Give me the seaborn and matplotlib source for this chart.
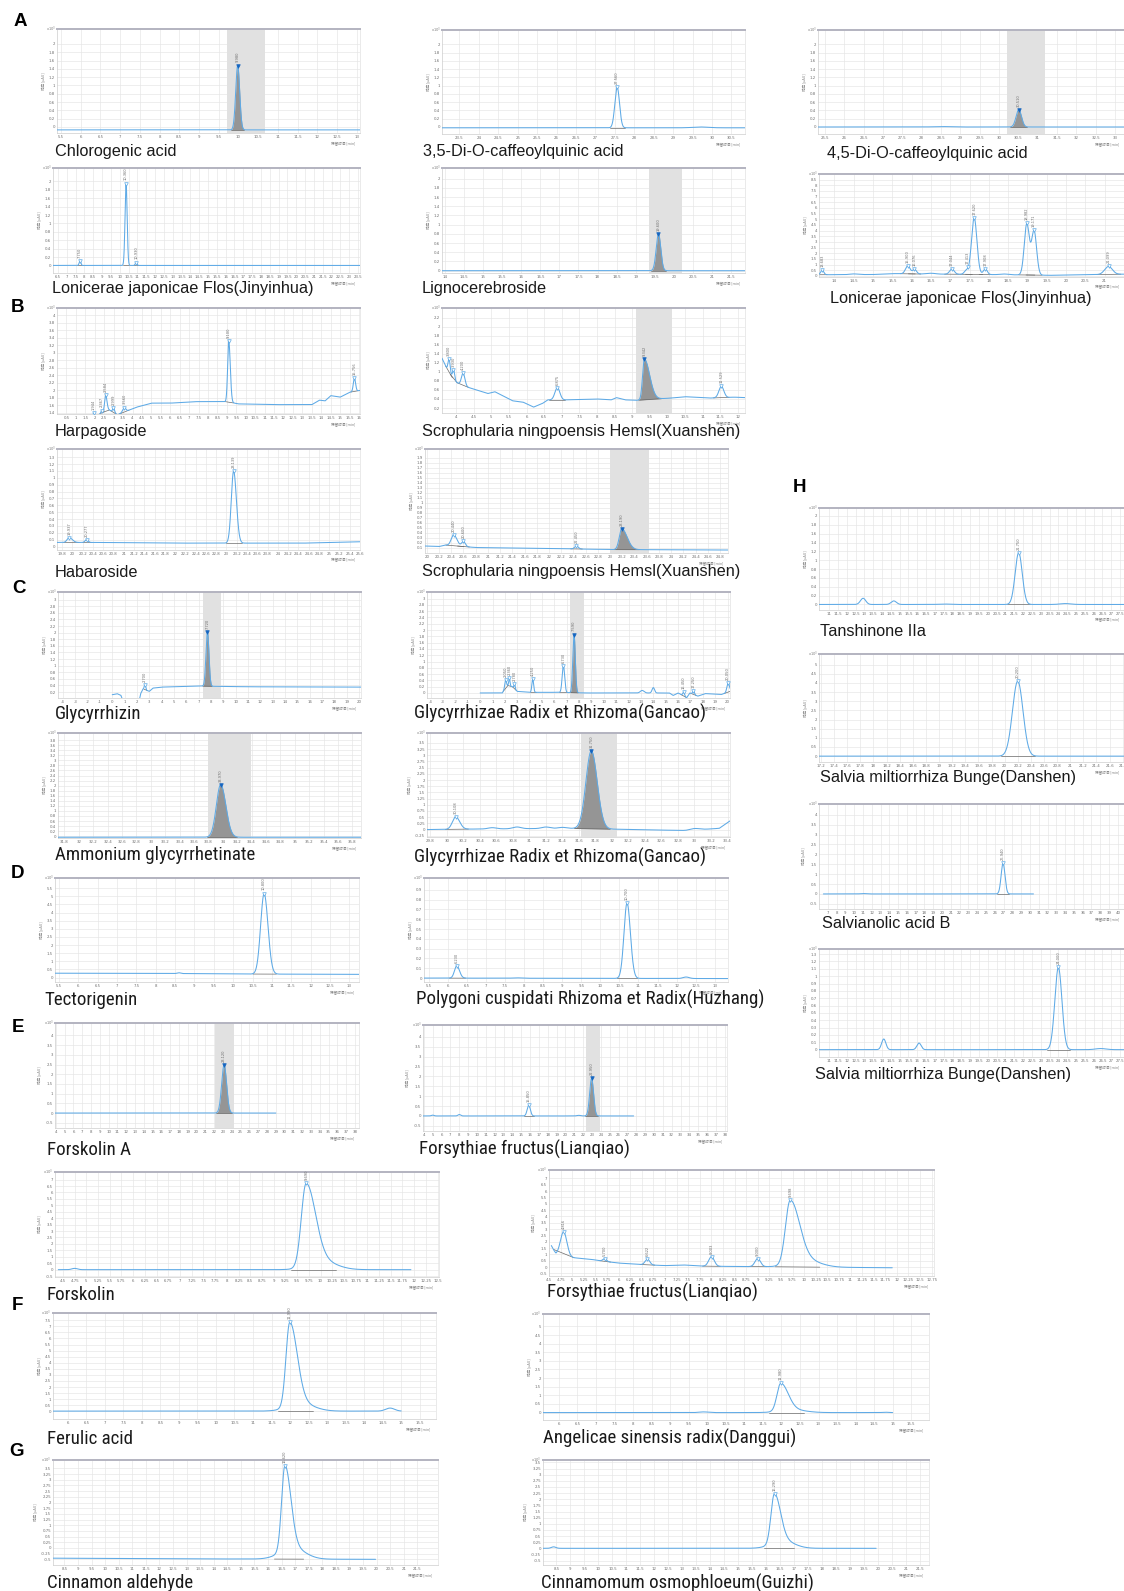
import numpy as np
import matplotlib
matplotlib.use('Agg')
import matplotlib.pyplot as plt
from matplotlib import font_manager
from matplotlib.font_manager import FontProperties
import seaborn as sns

# ---------------- DATA ----------------
# each panel: x range, x ticks (first, last, step), y range, y ticks,
# baseline points (rt, signal), peaks (rt, height, sigma, tail factor, labelled), integration window
CGA_X = (5.4, 13.08); CGA_XT = (5.5, 13.0, 0.5); CGA_Y = (-0.145, 2.36); CGA_YT = (0, 2.0, 0.2)
CGA_BASE = [(5.4, -0.07), (13.08, -0.07)]
CGA_PEAKS = [(9.98, 1.55, 0.05, 1.0, 1)]
CGA_SHADE = (9.72, 10.66)

D35_X = (23.05, 30.85); D35_XT = (23.5, 30.5, 0.5); D35_Y = (-0.17, 2.35); D35_YT = (0, 2.0, 0.2)
D35_BASE = [(23.05, -0.02), (30.85, -0.02)]
D35_PEAKS = [(27.56, 0.98, 0.06, 1.0, 1), (29.7, 0.02, 0.2, 1.0, 0)]
D35_SHADE = None

D45_X = (25.32, 33.23); D45_XT = (25.5, 33.0, 0.5); D45_Y = (-0.17, 2.35); D45_YT = (0, 2.0, 0.2)
D45_BASE = [(25.32, 0.0), (33.23, 0.0)]
D45_PEAKS = [(28.5, 0.01, 0.2, 1.0, 0), (30.51, 0.42, 0.07, 1.0, 1)]
D45_SHADE = (30.2, 31.18)

LJ1_X = (6.22, 23.61); LJ1_XT = (6.5, 23.5, 0.5); LJ1_Y = (-0.18, 2.32); LJ1_YT = (0, 2.0, 0.2)
LJ1_BASE = [(6.22, 0.0), (23.61, 0.0)]
LJ1_PEAKS = [(7.75, 0.1, 0.05, 1.0, 1), (10.36, 1.95, 0.06, 1.0, 1), (10.93, 0.07, 0.05, 1.0, 1)]
LJ1_SHADE = None

LIG_X = (13.92, 21.87); LIG_XT = (14, 21.5, 0.5); LIG_Y = (-0.05, 2.23); LIG_YT = (0, 2.0, 0.2)
LIG_BASE = [(13.92, 0.0), (21.87, 0.0)]
LIG_PEAKS = [(19.6, 0.8, 0.06, 1.0, 1)]
LIG_SHADE = (19.35, 20.22)

LJ2_X = (13.6, 21.5); LJ2_XT = (14, 21.0, 0.5); LJ2_Y = (-0.1, 9.0); LJ2_YT = (0, 8.5, 0.5)
LJ2_BASE = [(13.6, 0.1), (15.0, 0.12), (15.5, 0.2), (16.5, 0.15), (17.0, 0.15), (18.5, 0.1),
            (19.6, 0.05), (20.5, 0.1), (21.5, 0.15)]
LJ2_PEAKS = [(13.683, 0.4, 0.04, 1.0, 1), (14.5, 0.06, 0.1, 1.0, 0), (15.9, 0.7, 0.06, 1.0, 1),
             (16.076, 0.4, 0.05, 1.0, 1), (16.5, 0.08, 0.12, 1.0, 0), (17.044, 0.45, 0.06, 1.0, 1),
             (17.413, 0.35, 0.05, 1.0, 1), (17.62, 5.0, 0.07, 1.0, 1), (17.908, 0.5, 0.05, 1.0, 1),
             (18.4, 0.06, 0.1, 1.0, 0), (18.982, 4.5, 0.065, 1.0, 1), (19.171, 3.9, 0.065, 1.0, 1),
             (21.099, 0.7, 0.1, 1.0, 1)]
LJ2_SHADE = None

HAR_X = (0.0, 16.05); HAR_XT = (0.5, 16.0, 0.5); HAR_Y = (1.37, 4.2); HAR_YT = (1.4, 4.0, 0.2)
HAR_BASE = [(1.6, 1.2), (2.2, 1.35), (2.7, 1.5), (3.2, 1.35), (3.7, 1.45), (4.2, 1.55), (5.0, 1.66),
            (6.0, 1.66), (7.3, 1.7), (9.0, 1.7), (9.6, 1.64), (11.5, 1.62), (13.5, 1.62), (13.9, 1.74),
            (14.2, 1.72), (14.5, 1.86), (15.0, 1.82), (15.5, 1.95), (16.05, 2.0)]
HAR_PEAKS = [(1.944, 0.12, 0.04, 1.0, 1), (2.367, 0.06, 0.04, 1.0, 1), (2.584, 0.4, 0.06, 1.0, 1),
             (2.999, 0.12, 0.05, 1.0, 1), (3.56, 0.12, 0.08, 1.0, 1), (9.1, 1.62, 0.06, 1.3, 1),
             (15.756, 0.35, 0.06, 1.0, 1)]
HAR_SHADE = None

SN1_X = (3.6, 12.2); SN1_XT = (4, 12, 0.5); SN1_Y = (0.09, 2.41); SN1_YT = (0.2, 2.2, 0.2)
SN1_BASE = [(3.6, 1.3), (3.75, 1.05), (3.95, 0.8), (4.15, 0.7), (4.5, 0.62), (4.9, 0.52), (5.1, 0.56),
            (5.3, 0.48), (5.6, 0.36), (5.9, 0.33), (6.2, 0.22), (6.45, 0.3), (6.6, 0.38), (7.1, 0.38),
            (8.0, 0.4), (8.4, 0.38), (8.55, 0.43), (8.8, 0.38), (9.1, 0.37), (10.1, 0.42), (10.5, 0.45),
            (11.2, 0.42), (11.9, 0.44), (12.2, 0.43)]
SN1_PEAKS = [(3.8, 0.3, 0.03, 1.0, 1), (3.93, 0.22, 0.03, 1.0, 1), (4.2, 0.28, 0.05, 1.0, 1),
             (6.875, 0.27, 0.07, 1.0, 1), (9.342, 0.9, 0.05, 3.0, 1), (11.529, 0.25, 0.07, 1.0, 1)]
SN1_SHADE = (9.11, 10.14)

HAB_X = (19.7, 25.6); HAB_XT = (19.8, 25.6, 0.2); HAB_Y = (-0.05, 1.42); HAB_YT = (0, 1.3, 0.1)
HAB_BASE = [(19.7, 0.06), (20.5, 0.06), (22.0, 0.05), (24.5, 0.05), (25.6, 0.07)]
HAB_PEAKS = [(19.937, 0.07, 0.04, 1.5, 1), (20.277, 0.04, 0.03, 1.0, 1), (23.139, 1.05, 0.045, 1.2, 1)]
HAB_SHADE = None

SN2_X = (19.97, 24.93); SN2_XT = (20, 24.8, 0.2); SN2_Y = (-0.01, 2.08); SN2_YT = (0.1, 1.9, 0.1)
SN2_BASE = [(19.97, 0.13), (20.2, 0.12), (20.3, 0.15), (20.8, 0.1), (21.5, 0.09), (22.5, 0.07),
            (23.0, 0.06), (24.93, 0.05)]
SN2_PEAKS = [(20.44, 0.22, 0.04, 1.3, 1), (20.6, 0.1, 0.03, 1.0, 1), (22.45, 0.06, 0.03, 1.0, 1),
             (23.19, 0.42, 0.04, 2.2, 1)]
SN2_SHADE = (23.0, 23.63)

GLY_X = (-4.4, 20.17); GLY_XT = (-4, 20, 1); GLY_Y = (0.02, 3.23); GLY_YT = (0.2, 3.0, 0.2)
GLY_BASE = [(0.0, 0.12), (0.4, 0.15), (0.7, 0.1), (1.0, -0.2), (2.1, -0.2), (2.3, 0.15), (2.5, 0.3),
            (3.0, 0.22), (3.3, 0.32), (4.0, 0.35), (6.0, 0.37), (7.3, 0.38), (9.0, 0.37), (11.0, 0.36),
            (20.17, 0.35)]
GLY_PEAKS = [(2.62, 0.12, 0.04, 1.0, 0), (2.7, 0.1, 0.04, 1.0, 1), (7.72, 1.65, 0.12, 1.0, 1)]
GLY_SHADE = (7.35, 8.8)

GC1_X = (-4.3, 20.2); GC1_XT = (-4, 20, 1); GC1_Y = (-0.16, 3.21); GC1_YT = (0, 3.0, 0.2)
GC1_BASE = [(0.0, 0.0), (1.8, 0.0), (2.1, 0.25), (2.6, 0.2), (3.0, 0.05), (4.0, 0.02), (6.2, 0.02),
            (8.5, 0.0), (15.3, 0.0), (15.6, -0.08), (16.0, 0.0), (16.7, -0.15), (16.95, 0.0),
            (17.6, -0.1), (18.2, -0.02), (19.5, -0.05), (20.2, 0.05)]
GC1_PEAKS = [(2.05, 0.2, 0.06, 1.0, 1), (2.36, 0.25, 0.05, 1.0, 1), (2.78, 0.15, 0.05, 1.0, 1),
             (4.25, 0.42, 0.07, 1.0, 1), (6.73, 0.85, 0.1, 1.0, 1), (7.59, 1.85, 0.1, 1.0, 1),
             (13.1, 0.08, 0.15, 1.0, 0), (14.0, 0.17, 0.1, 1.0, 0), (16.45, 0.12, 0.07, 1.0, 1),
             (17.25, 0.12, 0.07, 1.0, 1), (20.05, 0.3, 0.1, 1.0, 1)]
GC1_SHADE = (7.27, 8.4)

AMG_X = (31.71, 35.92); AMG_XT = (31.8, 35.8, 0.2); AMG_Y = (-0.07, 4.08); AMG_YT = (0, 3.8, 0.2)
AMG_BASE = [(31.71, -0.04), (35.92, -0.04)]
AMG_PEAKS = [(33.97, 2.08, 0.06, 1.2, 1)]
AMG_SHADE = (33.79, 34.39)

GC2_X = (29.76, 33.43); GC2_XT = (29.8, 33.4, 0.2); GC2_Y = (-0.3, 3.9); GC2_YT = (-0.25, 3.5, 0.25)
GC2_BASE = [(29.76, 0.0), (30.3, 0.02), (31.45, 0.05), (32.3, 0.0), (32.9, -0.04), (33.3, 0.05),
            (33.43, 0.35)]
GC2_PEAKS = [(30.108, 0.5, 0.04, 1.2, 1), (30.55, 0.05, 0.05, 1.0, 0), (30.85, 0.07, 0.05, 1.0, 0),
             (31.2, 0.06, 0.05, 1.0, 0), (31.4, 0.04, 0.05, 1.0, 0), (31.75, 3.15, 0.065, 1.1, 1),
             (33.0, 0.06, 0.06, 1.0, 0)]
GC2_SHADE = (31.62, 32.06)

TEC_X = (5.4, 13.25); TEC_XT = (5.5, 13.0, 0.5); TEC_Y = (-0.27, 6.12); TEC_YT = (0, 5.5, 0.5)
TEC_BASE = [(5.4, 0.27), (8.5, 0.25), (8.6, 0.3), (8.7, 0.25), (10.3, 0.22), (13.25, 0.2)]
TEC_PEAKS = [(10.8, 4.95, 0.09, 1.1, 1)]
TEC_SHADE = None

PC_X = (5.37, 13.35); PC_XT = (5.5, 13.0, 0.5); PC_Y = (-0.04, 1.02); PC_YT = (0, 0.9, 0.1)
PC_BASE = [(5.37, 0.0), (13.35, -0.005)]
PC_PEAKS = [(6.23, 0.125, 0.06, 1.2, 1), (7.8, 0.004, 0.1, 1.0, 0), (10.7, 0.77, 0.08, 1.1, 1),
            (12.25, 0.015, 0.08, 1.0, 0)]
PC_SHADE = None

FKA_X = (3.9, 38.45); FKA_XT = (4, 38, 1); FKA_Y = (-0.77, 4.64); FKA_YT = (-0.5, 4.0, 0.5)
FKA_BASE = [(3.9, 0.0), (29.0, 0.0)]
FKA_PEAKS = [(23.12, 2.49, 0.28, 1.0, 1)]
FKA_SHADE = (22.06, 24.27)

FF1_X = (3.9, 38.25); FF1_XT = (4, 38, 1); FF1_Y = (-0.76, 4.59); FF1_YT = (-0.5, 4.0, 0.5)
FF1_BASE = [(3.9, 0.0), (27.7, 0.0)]
FF1_PEAKS = [(5.0, 0.04, 0.15, 1.0, 0), (8.0, 0.07, 0.15, 1.0, 0), (15.85, 0.54, 0.18, 1.0, 1),
             (21.5, 0.03, 0.2, 1.0, 0), (22.95, 1.89, 0.22, 1.0, 1)]
FF1_SHADE = (22.3, 23.9)

FK_X = (4.33, 12.53); FK_XT = (4.5, 12.5, 0.25); FK_Y = (-0.57, 7.59); FK_YT = (-0.5, 7.0, 0.5)
FK_BASE = [(4.4, 0.0), (11.93, 0.0)]
FK_PEAKS = [(4.75, 0.1, 0.06, 1.0, 0), (9.69, 6.4, 0.1, 2.0, 1), (10.05, 0.6, 0.3, 1.0, 0)]
FK_SHADE = None

FF2_X = (4.5, 12.8); FF2_XT = (4.5, 12.75, 0.25); FF2_Y = (-0.7, 7.66); FF2_YT = (-0.5, 7.0, 0.5)
FF2_BASE = [(4.55, 1.7), (4.65, 1.0), (5.0, 0.75), (5.4, 0.62), (5.6, 0.5), (6.0, 0.32), (6.5, 0.2),
            (7.0, 0.12), (7.4, 0.17), (7.8, 0.08), (8.5, 0.05), (9.3, 0.03), (11.9, -0.05)]
FF2_PEAKS = [(4.816, 1.9, 0.07, 1.0, 1), (5.7, 0.2, 0.04, 1.0, 1), (6.622, 0.45, 0.05, 1.0, 1),
             (8.003, 0.75, 0.06, 1.0, 1), (9.0, 0.63, 0.06, 1.0, 1), (9.698, 5.0, 0.1, 2.0, 1),
             (10.05, 0.5, 0.3, 1.0, 0)]
FF2_SHADE = None

FER_X = (5.6, 15.94); FER_XT = (6, 15.5, 0.5); FER_Y = (-0.63, 8.1); FER_YT = (0, 7.5, 0.5)
FER_BASE = [(5.55, 0.02), (15.0, 0.02)]
FER_PEAKS = [(11.99, 6.9, 0.1, 2.0, 1), (12.3, 0.6, 0.35, 1.0, 0), (14.7, 0.25, 0.12, 1.0, 0)]
FER_SHADE = None

ASR_X = (5.57, 15.98); ASR_XT = (6, 15.5, 0.5); ASR_Y = (-0.43, 5.72); ASR_YT = (0, 5.0, 0.5)
ASR_BASE = [(5.57, 0.0), (15.0, 0.0)]
ASR_PEAKS = [(9.9, 0.04, 0.12, 1.0, 0), (11.98, 1.6, 0.1, 2.0, 1), (12.3, 0.15, 0.35, 1.0, 0),
             (14.8, 0.02, 0.08, 1.0, 0)]
ASR_SHADE = None

CIN_X = (8.08, 22.26); CIN_XT = (8.5, 21.5, 0.5); CIN_Y = (-0.75, 3.87); CIN_YT = (-0.5, 3.5, 0.25)
CIN_BASE = [(8.08, -0.45), (13.0, -0.48), (19.96, -0.5)]
CIN_PEAKS = [(16.62, 3.7, 0.12, 1.8, 1), (16.9, 0.5, 0.45, 1.0, 0)]
CIN_SHADE = None

CO_X = (8.02, 21.82); CO_XT = (8.5, 21.5, 0.5); CO_Y = (-0.68, 3.6); CO_YT = (-0.5, 3.5, 0.25)
CO_BASE = [(8.0, 0.0), (19.93, 0.0)]
CO_PEAKS = [(8.4, 0.06, 0.08, 1.0, 0), (16.29, 2.0, 0.12, 1.8, 1), (16.6, 0.3, 0.4, 1.0, 0)]
CO_SHADE = None

TAN_X = (10.43, 27.72); TAN_XT = (11, 27.5, 0.5); TAN_Y = (-0.125, 2.18); TAN_YT = (0, 2.0, 0.2)
TAN_BASE = [(10.43, 0.0), (27.72, 0.0)]
TAN_PEAKS = [(12.93, 0.14, 0.15, 1.0, 0), (14.67, 0.08, 0.15, 1.0, 0), (17.5, 0.01, 0.3, 1.0, 0),
             (21.75, 1.17, 0.2, 1.0, 1), (24.4, 0.02, 0.3, 1.0, 0)]
TAN_SHADE = None

SM1_X = (17.17, 21.82); SM1_XT = (17.2, 21.8, 0.2); SM1_Y = (-0.32, 5.58); SM1_YT = (0, 5.0, 0.5)
SM1_BASE = [(17.17, 0.0), (21.82, 0.0)]
SM1_PEAKS = [(20.2, 4.1, 0.08, 1.0, 1)]
SM1_SHADE = None

SAB_X = (6.0, 40.7); SAB_XT = (7, 40, 1); SAB_Y = (-0.76, 4.54); SAB_YT = (-0.5, 4.0, 0.5)
SAB_BASE = [(6.5, 0.0), (30.4, 0.0)]
SAB_PEAKS = [(11.0, 0.02, 0.3, 1.0, 0), (26.94, 1.54, 0.22, 1.0, 1)]
SAB_SHADE = None

SM2_X = (10.43, 27.72); SM2_XT = (11, 27.5, 0.5); SM2_Y = (-0.1, 1.37); SM2_YT = (0, 1.3, 0.1)
SM2_BASE = [(10.43, 0.0), (27.72, 0.0)]
SM2_PEAKS = [(14.1, 0.145, 0.12, 1.0, 0), (16.1, 0.09, 0.12, 1.0, 0), (24.0, 1.12, 0.2, 1.0, 1),
             (26.4, 0.015, 0.3, 1.0, 0)]
SM2_SHADE = None

CAPTIONS = ['Chlorogenic acid', '3,5-Di-O-caffeoylquinic acid', '4,5-Di-O-caffeoylquinic acid',
            'Lonicerae japonicae Flos(Jinyinhua)', 'Lignocerebroside', 'Lonicerae japonicae Flos(Jinyinhua)',
            'Harpagoside', 'Scrophularia ningpoensis Hemsl(Xuanshen)', 'Habaroside',
            'Scrophularia ningpoensis Hemsl(Xuanshen)', 'Glycyrrhizin', 'Glycyrrhizae Radix et Rhizoma(Gancao)',
            'Ammonium glycyrrhetinate', 'Glycyrrhizae Radix et Rhizoma(Gancao)', 'Tectorigenin',
            'Polygoni cuspidati Rhizoma et Radix(Huzhang)', 'Forskolin A', 'Forsythiae fructus(Lianqiao)',
            'Forskolin', 'Forsythiae fructus(Lianqiao)', 'Ferulic acid', 'Angelicae sinensis radix(Danggui)',
            'Cinnamon aldehyde', 'Cinnamomum osmophloeum(Guizhi)', 'Tanshinone IIa',
            'Salvia miltiorrhiza Bunge(Danshen)', 'Salvianolic acid B', 'Salvia miltiorrhiza Bunge(Danshen)']
LETTERS = ['A', 'B', 'C', 'D', 'E', 'F', 'G', 'H']

PANEL_DATA = [
    (CGA_X, CGA_XT, CGA_Y, CGA_YT, CGA_BASE, CGA_PEAKS, CGA_SHADE),
    (D35_X, D35_XT, D35_Y, D35_YT, D35_BASE, D35_PEAKS, D35_SHADE),
    (D45_X, D45_XT, D45_Y, D45_YT, D45_BASE, D45_PEAKS, D45_SHADE),
    (LJ1_X, LJ1_XT, LJ1_Y, LJ1_YT, LJ1_BASE, LJ1_PEAKS, LJ1_SHADE),
    (LIG_X, LIG_XT, LIG_Y, LIG_YT, LIG_BASE, LIG_PEAKS, LIG_SHADE),
    (LJ2_X, LJ2_XT, LJ2_Y, LJ2_YT, LJ2_BASE, LJ2_PEAKS, LJ2_SHADE),
    (HAR_X, HAR_XT, HAR_Y, HAR_YT, HAR_BASE, HAR_PEAKS, HAR_SHADE),
    (SN1_X, SN1_XT, SN1_Y, SN1_YT, SN1_BASE, SN1_PEAKS, SN1_SHADE),
    (HAB_X, HAB_XT, HAB_Y, HAB_YT, HAB_BASE, HAB_PEAKS, HAB_SHADE),
    (SN2_X, SN2_XT, SN2_Y, SN2_YT, SN2_BASE, SN2_PEAKS, SN2_SHADE),
    (GLY_X, GLY_XT, GLY_Y, GLY_YT, GLY_BASE, GLY_PEAKS, GLY_SHADE),
    (GC1_X, GC1_XT, GC1_Y, GC1_YT, GC1_BASE, GC1_PEAKS, GC1_SHADE),
    (AMG_X, AMG_XT, AMG_Y, AMG_YT, AMG_BASE, AMG_PEAKS, AMG_SHADE),
    (GC2_X, GC2_XT, GC2_Y, GC2_YT, GC2_BASE, GC2_PEAKS, GC2_SHADE),
    (TEC_X, TEC_XT, TEC_Y, TEC_YT, TEC_BASE, TEC_PEAKS, TEC_SHADE),
    (PC_X, PC_XT, PC_Y, PC_YT, PC_BASE, PC_PEAKS, PC_SHADE),
    (FKA_X, FKA_XT, FKA_Y, FKA_YT, FKA_BASE, FKA_PEAKS, FKA_SHADE),
    (FF1_X, FF1_XT, FF1_Y, FF1_YT, FF1_BASE, FF1_PEAKS, FF1_SHADE),
    (FK_X, FK_XT, FK_Y, FK_YT, FK_BASE, FK_PEAKS, FK_SHADE),
    (FF2_X, FF2_XT, FF2_Y, FF2_YT, FF2_BASE, FF2_PEAKS, FF2_SHADE),
    (FER_X, FER_XT, FER_Y, FER_YT, FER_BASE, FER_PEAKS, FER_SHADE),
    (ASR_X, ASR_XT, ASR_Y, ASR_YT, ASR_BASE, ASR_PEAKS, ASR_SHADE),
    (CIN_X, CIN_XT, CIN_Y, CIN_YT, CIN_BASE, CIN_PEAKS, CIN_SHADE),
    (CO_X, CO_XT, CO_Y, CO_YT, CO_BASE, CO_PEAKS, CO_SHADE),
    (TAN_X, TAN_XT, TAN_Y, TAN_YT, TAN_BASE, TAN_PEAKS, TAN_SHADE),
    (SM1_X, SM1_XT, SM1_Y, SM1_YT, SM1_BASE, SM1_PEAKS, SM1_SHADE),
    (SAB_X, SAB_XT, SAB_Y, SAB_YT, SAB_BASE, SAB_PEAKS, SAB_SHADE),
    (SM2_X, SM2_XT, SM2_Y, SM2_YT, SM2_BASE, SM2_PEAKS, SM2_SHADE),
]

# ---------------- LAYOUT (pixels in a 1124 x 1591 canvas) ----------------
W, H = 1124, 1591
# (left, top, right, bottom), caption (x, centre y), condensed caption font
LAYOUT = [
    ((57, 29, 360, 133), (55, 150), False),
    ((442, 30, 745, 134), (423, 150), False),
    ((818, 30, 1124, 134), (827, 152), False),
    ((53, 168, 360, 273), (52, 287), False),
    ((442, 168, 745, 273), (422, 287), False),
    ((819, 174, 1124, 277), (830, 297), False),
    ((57, 308, 360, 414), (55, 430), False),
    ((442, 308, 745, 413), (422, 430), False),
    ((57, 449, 360, 550), (55, 571), False),
    ((425, 449, 728, 553), (422, 570), False),
    ((58, 592, 361, 698), (55, 712), True),
    ((427, 592, 730, 698), (414, 712), True),
    ((58, 733, 361, 838), (55, 853), True),
    ((427, 733, 730, 837), (414, 856), True),
    ((55, 878, 359, 982), (44, 998), True),
    ((424, 878, 728, 982), (416, 998), True),
    ((55, 1023, 359, 1128), (47, 1148), True),
    ((423, 1025, 727, 1131), (419, 1148), True),
    ((55, 1172, 439, 1277), (46, 1293), True),
    ((549, 1170, 934, 1276), (547, 1291), True),
    ((53, 1313, 436, 1419), (47, 1437), True),
    ((543, 1314, 929, 1420), (543, 1437), True),
    ((53, 1460, 438, 1565), (47, 1581), True),
    ((543, 1460, 929, 1565), (541, 1582), True),
    ((819, 508, 1124, 610), (820, 630), False),
    ((819, 654, 1124, 762), (820, 776), False),
    ((819, 804, 1124, 909), (822, 922), False),
    ((819, 949, 1124, 1057), (815, 1073), False),
]
LETTER_POS = [(20, 21), (18, 308), (19, 589), (18, 873), (18, 1027), (17, 1306), (17, 1452), (800, 488)]

# ---------------- STYLE ----------------
sns.set_theme(style='white')
plt.rcParams['font.family'] = ['DejaVu Sans']
ttf = font_manager.fontManager.ttflist
avail = {f.name for f in ttf}
REG = 'Liberation Sans' if 'Liberation Sans' in avail else 'DejaVu Sans'
CJK = ['Noto Sans CJK SC', 'DejaVu Sans']
LINE = '#5eaae6'
MARK = '#1565c0'


def find_condensed():
    order = ['Liberation Sans Narrow', 'Roboto Condensed', 'Open Sans Condensed', 'Noto Sans',
             'Roboto', 'Open Sans', 'DejaVu Sans']
    best = None
    for f in ttf:
        narrow = ('Narrow' in f.name or 'Condensed' in f.name or
                  str(f.stretch) in ('condensed', 'semi-condensed', '400', '300'))
        if not narrow:
            continue
        if f.style != 'normal' or f.weight not in (400, 'normal', 'regular', 'book'):
            continue
        if f.name in ('Liberation Sans', 'DejaVu Sans') and str(f.stretch) == 'normal':
            continue
        rank = order.index(f.name) if f.name in order else 50
        if best is None or rank < best[0]:
            best = (rank, f.fname)
    return FontProperties(fname=best[1]) if best else None


COND_FP = find_condensed()
REG_FP = FontProperties(family=REG)

fig = plt.figure(figsize=(W / 100, H / 100), dpi=100)
renderer = fig.canvas.get_renderer()


def fit_size(fp, sample, target_px):
    t = fig.text(0, 0, sample, fontproperties=fp, fontsize=10)
    w = t.get_window_extent(renderer).width
    t.remove()
    return 10 * target_px / w


REG_SIZE = fit_size(REG_FP, 'Scrophularia ningpoensis Hemsl(Xuanshen)', 318)
COND_FP_USE = COND_FP if COND_FP is not None else REG_FP
COND_SIZE = fit_size(COND_FP_USE, 'Glycyrrhizae Radix et Rhizoma(Gancao)', 291)


def box(l, t, r, b):
    return [l / W, 1 - b / H, (r - l) / W, (b - t) / H]


def baseline(base, xv):
    return np.interp(xv, [p[0] for p in base], [p[1] for p in base])


def trace(base, peaks):
    x = np.linspace(base[0][0], base[-1][0], 4000)
    y = baseline(base, x)
    for rt, h, w, tail, lab in peaks:
        s = np.where(x < rt, w, w * tail)
        y = y + h * np.exp(-0.5 * ((x - rt) / s) ** 2)
    return x, y


def ticks(spec):
    a, b, st = spec
    n = int(round((b - a) / st)) + 1
    return [round(a + i * st, 4) for i in range(n)]


def draw_panel(rect, data):
    xr, xt, yr, yt, base, peaks, shade = data
    ax = fig.add_axes(box(*rect))
    x, y = trace(base, peaks)
    if shade is not None:
        ax.axvspan(shade[0], shade[1], color='#e1e1e1', lw=0, zorder=0.6)
    sns.lineplot(x=x, y=y, ax=ax, color=LINE, linewidth=0.75, estimator=None, sort=False,
                 legend=False, zorder=3)
    for rt, h, w, tail, lab in peaks:
        if not lab:
            continue
        win = (x > rt - w) & (x < rt + w)
        i = np.flatnonzero(win)[np.argmax(y[win])]
        xa, ya = x[i], y[i]
        x0, x1 = rt - 3.2 * w, rt + 3.2 * w * tail
        x0, x1 = max(x0, x[0]), min(x1, x[-1])
        y0, y1 = baseline(base, x0), baseline(base, x1)
        sel = shade is not None and shade[0] <= rt <= shade[1]
        if sel:
            m = (x >= x0) & (x <= x1)
            chord = y0 + (x[m] - x0) * (y1 - y0) / (x1 - x0)
            ax.fill_between(x[m], y[m], chord, color='#8d8d8d', alpha=0.9, lw=0, zorder=2)
        ax.plot([x0, x1], [y0, y1], color='#6a6a6a', lw=0.5, zorder=2.5)
        ax.plot([xa], [ya], marker='v', ms=2.6, mew=0.5, mec=MARK if sel else LINE,
                mfc=MARK if sel else 'white', zorder=4)
        ax.annotate(f'{rt:.3f}', (xa, ya), xytext=(0, 2.2), textcoords='offset points', rotation=90,
                    fontsize=2.6, color='#6f6f6f', ha='center', va='bottom', zorder=5)
    ax.set_xlim(*xr)
    ax.set_ylim(*yr)
    xs, ys = ticks(xt), ticks(yt)
    ax.set_xticks(xs)
    ax.set_xticklabels([f'{v:g}' for v in xs])
    ax.set_yticks(ys)
    ax.set_yticklabels([f'{v:g}' for v in ys])
    ax.tick_params(axis='both', length=0, labelsize=2.8, labelcolor='#6e6e6e', pad=1.5)
    ax.grid(True, color='#e5e5e5', lw=0.45)
    ax.set_axisbelow(True)
    for s in ('left', 'bottom', 'right'):
        ax.spines[s].set_color('#cdcdcd')
        ax.spines[s].set_linewidth(0.5)
    ax.spines['right'].set_color('#e2e2e2')
    ax.spines['top'].set_color('#b3b3c0')
    ax.spines['top'].set_linewidth(1.4)
    ax.set_xlabel('')
    ax.set_ylabel('响应 [µAU]', fontsize=2.6, family=CJK, color='#808080', labelpad=2)
    ax.text(-0.004, 1.0, r'x10$^{3}$', transform=ax.transAxes, fontsize=2.6, ha='right', va='center',
            color='#808080')
    ax.text(0.985, -0.075, '保留时间 [min]', transform=ax.transAxes, fontsize=2.6, ha='right', va='top',
            family=CJK, color='#808080')
    return ax


for (rect, cap, cond), data, name in zip(LAYOUT, PANEL_DATA, CAPTIONS):
    draw_panel(rect, data)
    if cond:
        fp, fs = COND_FP_USE, COND_SIZE
    else:
        fp, fs = REG_FP, REG_SIZE
    off = 0.48 * fs * 100 / 72 * 0.72
    t = fig.text(cap[0] / W, 1 - (cap[1] + off) / H, name, fontproperties=fp, color='#1a1a1a',
                 ha='left', va='baseline')
    t.set_fontsize(fs)

for (lx, ly), letter in zip(LETTER_POS, LETTERS):
    fig.text(lx / W, 1 - ly / H, letter, fontsize=13.5, fontweight='bold', family=REG, color='black',
             ha='center', va='center')

fig.savefig('out.png', dpi=100, facecolor='white')
